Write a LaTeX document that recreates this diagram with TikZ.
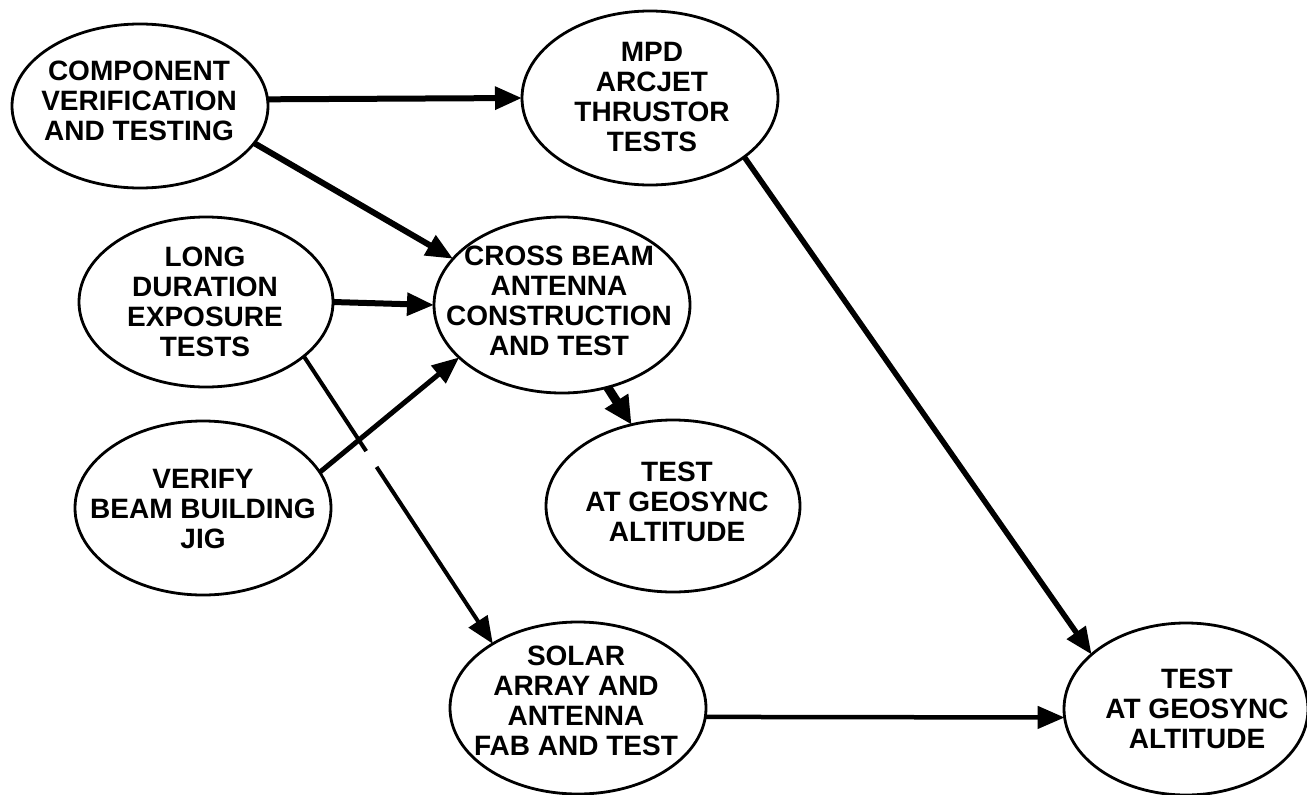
\documentclass[tikz,border=0pt]{standalone}
\usepackage{fontspec}
\setmainfont{Liberation Sans}
\usetikzlibrary{shapes.geometric,arrows.meta,calc}
\tikzset{
  bub/.style={ellipse, draw, line width=2.8pt, inner sep=0pt, outer sep=0pt},
  lbl/.style={font=\fontsize{28}{30}\selectfont\bfseries, align=center, inner sep=0pt},
  head/.style={-{Triangle[length=27pt,width=22pt]}},
  bighead/.style={-{Triangle[length=28pt,width=26pt]}},
}
\begin{document}
\begin{tikzpicture}[x=1pt,y=-1pt]
\useasboundingbox[fill=white] (0,0) rectangle (1307,795);

% ellipses
\node[bub, minimum width=256pt, minimum height=164pt] (comp) at (140,106) {};
\node[bub, minimum width=256pt, minimum height=174pt] (mpd) at (650,98) {};
\node[bub, minimum width=254pt, minimum height=170pt] (long) at (206,302) {};
\node[bub, minimum width=256pt, minimum height=176pt] (cross) at (562,305) {};
\node[bub, minimum width=256pt, minimum height=174pt] (verify) at (203,508) {};
\node[bub, minimum width=254pt, minimum height=172pt] (testm) at (673,506) {};
\node[bub, minimum width=256pt, minimum height=172pt] (solar) at (578,708) {};
\node[bub, minimum width=244pt, minimum height=172pt] (testr) at (1186,709) {};

% labels
\node[lbl] (compt) at (139,101) {COMPONENT\\VERIFICATION\\AND TESTING};
\node[lbl] (mpdt) at (652,97) {MPD\\ARCJET\\THRUSTOR\\TESTS};
\node[lbl] (longt) at (205,302) {LONG\\DURATION\\EXPOSURE\\TESTS};
\node[lbl] (crosst) at (559,301) {CROSS BEAM\\ANTENNA\\CONSTRUCTION\\AND TEST};
\node[lbl] (verifyt) at (203,509) {VERIFY\\BEAM BUILDING\\JIG};
\node[lbl] (testmt) at (677,502) {TEST\\AT GEOSYNC\\ALTITUDE};
\node[lbl] (solart) at (576,701) {SOLAR\\ARRAY AND\\ANTENNA\\FAB AND TEST};
\node[lbl] (testrt) at (1197,709) {TEST\\AT GEOSYNC\\ALTITUDE};

% connectors
\draw[head, line width=6pt] (comp.3) -- (mpd.west);
\draw[head, line width=6pt] (comp.-18.6) -- (cross.157);
\draw[head, line width=6pt] (long.east) -- (cross.west);
\draw[head, line width=5pt] (verify.17.7) -- (cross.207.5);
\draw[bighead, line width=9pt] (cross.-61.7) -- (testm.117.4);
\draw[head, line width=5.5pt] (mpd.-32.3) -- (testr.150);
\draw[head, line width=4.5pt] (solar.-4) -- (testr.184);

\coordinate (ls) at (long.-29.5);
\coordinate (le) at (solar.143.8);
\draw[line width=4pt] (ls) -- ($(ls)!0.33!(le)$);
\draw[head, line width=4pt] ($(ls)!0.385!(le)$) -- (le);
\end{tikzpicture}
\end{document}
